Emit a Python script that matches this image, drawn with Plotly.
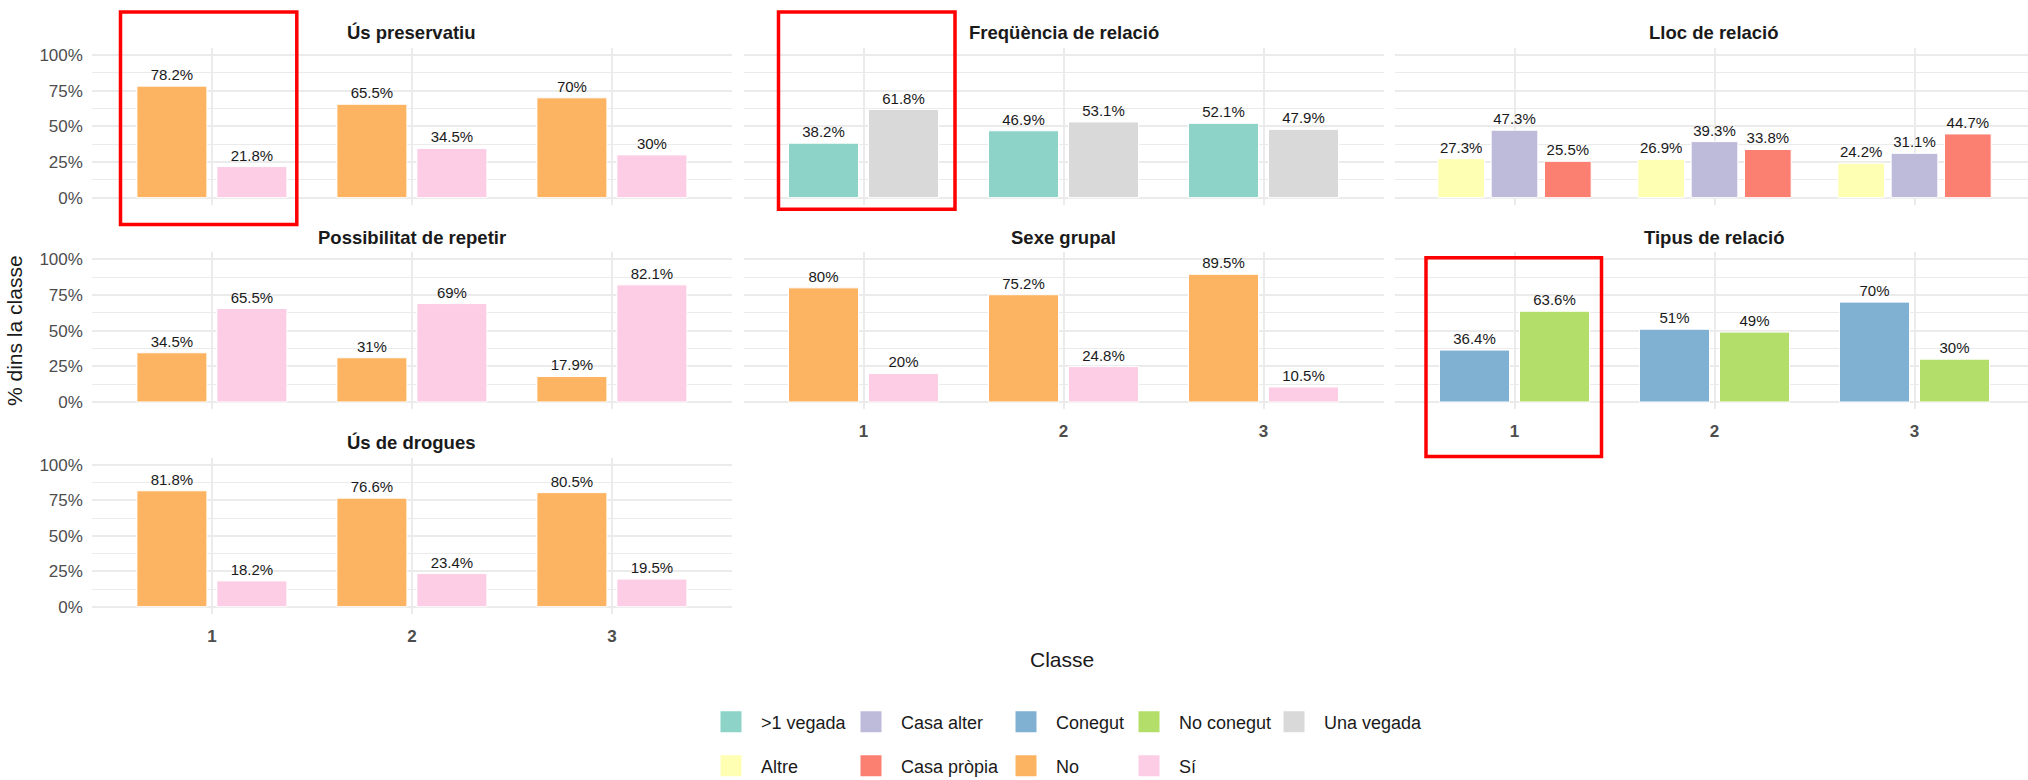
import plotly.graph_objects as go

W, H = 2028, 780
FONT = "Liberation Sans, Arial, sans-serif"

# ---------------- data ----------------
classes = [1, 2, 3]
class_labels = ["1", "2", "3"]

pres_no = [78.2, 65.5, 70]
pres_si = [21.8, 34.5, 30]
freq_mes = [38.2, 46.9, 52.1]
freq_una = [61.8, 53.1, 47.9]
lloc_altre = [27.3, 26.9, 24.2]
lloc_alter = [47.3, 39.3, 31.1]
lloc_propia = [25.5, 33.8, 44.7]
rep_no = [34.5, 31, 17.9]
rep_si = [65.5, 69, 82.1]
grup_no = [80, 75.2, 89.5]
grup_si = [20, 24.8, 10.5]
tipus_con = [36.4, 51, 70]
tipus_nocon = [63.6, 49, 30]
drog_no = [81.8, 76.6, 80.5]
drog_si = [18.2, 23.4, 19.5]

y_tick_vals = [0, 25, 50, 75, 100]
y_tick_text = ["0%", "25%", "50%", "75%", "100%"]
y_minor_vals = [12.5, 37.5, 62.5, 87.5]

legend_row1 = [">1 vegada", "Casa alter", "Conegut", "No conegut", "Una vegada"]
legend_row2 = ["Altre", "Casa pròpia", "No", "Sí"]

colors = {
    ">1 vegada": "#8DD3C7",
    "Altre": "#FFFFB3",
    "Casa alter": "#BEBADA",
    "Casa pròpia": "#FB8072",
    "Conegut": "#80B1D3",
    "No": "#FDB462",
    "No conegut": "#B3DE69",
    "Sí": "#FCCDE5",
    "Una vegada": "#D9D9D9",
}

panels = [
    ("Ús preservatiu", 0, 0, [("No", pres_no), ("Sí", pres_si)]),
    ("Freqüència de relació", 0, 1, [(">1 vegada", freq_mes), ("Una vegada", freq_una)]),
    ("Lloc de relació", 0, 2, [("Altre", lloc_altre), ("Casa alter", lloc_alter), ("Casa pròpia", lloc_propia)]),
    ("Possibilitat de repetir", 1, 0, [("No", rep_no), ("Sí", rep_si)]),
    ("Sexe grupal", 1, 1, [("No", grup_no), ("Sí", grup_si)]),
    ("Tipus de relació", 1, 2, [("Conegut", tipus_con), ("No conegut", tipus_nocon)]),
    ("Ús de drogues", 2, 0, [("No", drog_no), ("Sí", drog_si)]),
]

# ---------------- geometry (pixels) ----------------
col_px = [(91.9, 731.9), (743.5, 1383.5), (1394.5, 2028.0)]
row_px = [(47.9, 204.8), (252.2, 409.1), (457.9, 613.8)]
px_per_class = 200.0

fig = go.Figure()
layout_axes = {}
annotations = []

for i, (title, r, c, series) in enumerate(panels):
    n = i + 1
    xa = "x" if n == 1 else f"x{n}"
    ya = "y" if n == 1 else f"y{n}"
    x0, x1 = col_px[c]
    y0, y1 = row_px[r]
    show_x = (r == 2) or (r == 1 and c > 0)
    for name, vals in series:
        fig.add_trace(go.Bar(
            x=classes, y=vals, name=name, xaxis=xa, yaxis=ya,
            marker=dict(color=colors[name], line=dict(color="white", width=1)),
            text=[f"{v:g}%" for v in vals], textposition="outside",
            textfont=dict(size=15, color="#1A1A1A", family=FONT),
            cliponaxis=False, constraintext="none", showlegend=False,
        ))
    layout_axes["xaxis" if n == 1 else f"xaxis{n}"] = dict(
        domain=[x0 / W, x1 / W], anchor=ya,
        range=[0.4, 0.4 + (x1 - x0) / px_per_class],
        tickvals=classes, ticktext=class_labels, showticklabels=show_x,
        tickfont=dict(size=17, color="#4D4D4D", family=FONT, weight="bold"),
        ticks="", ticklabelstandoff=10,
        showgrid=True, gridcolor="#EBEBEB", gridwidth=2,
        zeroline=False, showline=False, fixedrange=True,
    )
    layout_axes["yaxis" if n == 1 else f"yaxis{n}"] = dict(
        domain=[1 - y1 / H, 1 - y0 / H], anchor=xa,
        range=[-5, 105],
        tickvals=y_tick_vals, ticktext=y_tick_text, showticklabels=(c == 0),
        tickfont=dict(size=17, color="#4D4D4D", family=FONT),
        ticks="", ticklabelstandoff=8,
        showgrid=True, gridcolor="#EBEBEB", gridwidth=2,
        minor=dict(tickvals=y_minor_vals, showgrid=True, gridcolor="#EBEBEB", gridwidth=1.2),
        zeroline=False, showline=False, fixedrange=True,
    )
    xr = x1 if c < 2 else 2034
    annotations.append(dict(
        text=f"<b>{title}</b>", x=(x0 + xr) / 2 / W,
        y=1 - (y0 - 15) / H, xref="paper", yref="paper",
        xanchor="center", yanchor="middle", showarrow=False,
        font=dict(size=18.5, color="#1A1A1A", family=FONT),
    ))

# axis titles
annotations.append(dict(
    text="Classe", x=1062 / W, y=1 - 659 / H, xref="paper", yref="paper",
    xanchor="center", yanchor="middle", showarrow=False,
    font=dict(size=21, color="#1A1A1A", family=FONT),
))
annotations.append(dict(
    text="% dins la classe", x=14 / W, y=1 - 331 / H, xref="paper", yref="paper",
    xanchor="center", yanchor="middle", showarrow=False, textangle=-90,
    font=dict(size=21, color="#1A1A1A", family=FONT),
))

# legend entries
ITEMW = 50
col_widths = [140, 155, 123, 145, 200]
for j, name in enumerate(legend_row1):
    fig.add_trace(go.Scatter(
        x=[None], y=[None], mode="markers", name=name, legend="legend",
        marker=dict(symbol="square", size=16, color=colors[name],
                    line=dict(color=colors[name], width=5)),
        legendwidth=col_widths[j] - (ITEMW + 15), hoverinfo="skip",
    ))
for j, name in enumerate(legend_row2):
    fig.add_trace(go.Scatter(
        x=[None], y=[None], mode="markers", name=name, legend="legend2",
        marker=dict(symbol="square", size=16, color=colors[name],
                    line=dict(color=colors[name], width=5)),
        legendwidth=col_widths[j] - (ITEMW + 15), hoverinfo="skip",
    ))

legend_common = dict(
    orientation="h", xanchor="left", yanchor="middle",
    font=dict(size=18, color="#1A1A1A", family=FONT),
    itemsizing="trace", itemwidth=ITEMW, bgcolor="rgba(0,0,0,0)", traceorder="normal",
    itemclick=False, itemdoubleclick=False,
)

# highlight boxes
shapes = []
for (bx0, by0, bx1, by1) in [(120.5, 12, 296.8, 224.5), (778.5, 12, 955, 209.2), (1426, 257.7, 1601.5, 456.6)]:
    shapes.append(dict(
        type="rect", xref="paper", yref="paper",
        x0=bx0 / W, x1=bx1 / W, y0=1 - by1 / H, y1=1 - by0 / H,
        line=dict(color="#FF0000", width=3.5), fillcolor="rgba(0,0,0,0)", layer="above",
    ))

fig.update_layout(
    width=W, height=H,
    margin=dict(l=0, r=0, t=0, b=0, autoexpand=False),
    paper_bgcolor="white", plot_bgcolor="white",
    barmode="group", bargap=0.2, bargroupgap=0.125,
    font=dict(family=FONT),
    annotations=annotations, shapes=shapes,
    legend=dict(x=701 / W, y=1 - 722 / H, **legend_common),
    legend2=dict(x=701 / W, y=1 - 766 / H, **legend_common),
    **layout_axes,
)

fig.write_html(
    "out.html",
    config={"displayModeBar": False},
    post_script="document.body.style.margin='0';document.body.style.overflow='hidden';",
)
